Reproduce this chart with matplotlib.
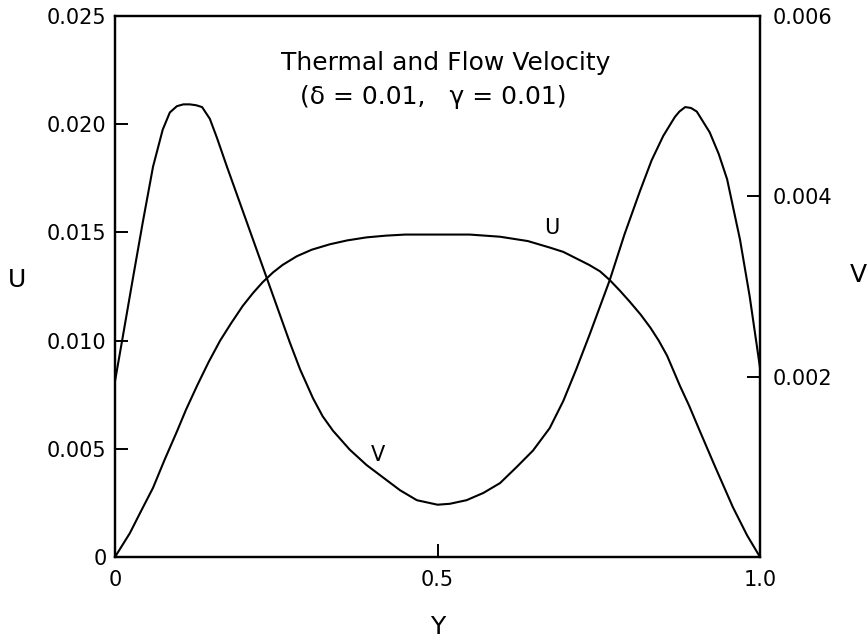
import numpy as np
import matplotlib
matplotlib.use("Agg")
import matplotlib.pyplot as plt

# U curve (left axis)
y_u = [0.0, 0.023, 0.04, 0.059, 0.077, 0.096, 0.11, 0.127, 0.145, 0.163,
       0.18, 0.198, 0.214, 0.229, 0.245, 0.26, 0.282, 0.305, 0.333, 0.36,
       0.39, 0.42, 0.45, 0.5, 0.55, 0.597, 0.64, 0.674, 0.695, 0.715,
       0.735, 0.752, 0.767, 0.783, 0.798, 0.815, 0.83, 0.843, 0.856, 0.876,
       0.89, 0.907, 0.93, 0.958, 0.98, 1.0]
u_vals = [0.0, 0.0011, 0.0021, 0.0032, 0.0045, 0.0058, 0.0068, 0.0079, 0.0090, 0.0100,
          0.0108, 0.0116, 0.0122, 0.0127, 0.01315, 0.0135, 0.0139, 0.0142, 0.01445, 0.01463,
          0.01477, 0.01485, 0.0149, 0.0149, 0.0149, 0.0148, 0.0146, 0.0143, 0.0141, 0.0138,
          0.0135, 0.0132, 0.0128, 0.0123, 0.0118, 0.0112, 0.0106, 0.0100, 0.0093, 0.0079,
          0.0070, 0.0058, 0.0042, 0.0023, 0.0010, 0.0]

# V curve (right axis)
y_v = [0.0, 0.012, 0.028, 0.043, 0.059, 0.074, 0.085, 0.096, 0.106, 0.116,
       0.126, 0.135, 0.147, 0.158, 0.173, 0.19, 0.209, 0.22, 0.233, 0.251,
       0.271, 0.287, 0.307, 0.322, 0.338, 0.364, 0.39, 0.416, 0.442, 0.468,
       0.5, 0.519, 0.545, 0.571, 0.597, 0.623, 0.648, 0.674, 0.695, 0.715,
       0.736, 0.767, 0.79, 0.814, 0.832, 0.85, 0.868, 0.875, 0.884, 0.893,
       0.902, 0.922, 0.936, 0.949, 0.969, 0.984, 1.0]
v_vals = [0.00195, 0.00244, 0.00310, 0.00371, 0.00433, 0.00474, 0.00493, 0.00500, 0.00502, 0.00502,
          0.00501, 0.00499, 0.00486, 0.00465, 0.00434, 0.00400, 0.00362, 0.00340, 0.00314, 0.00278,
          0.00238, 0.00208, 0.00176, 0.00156, 0.00140, 0.00119, 0.00102, 0.00088, 0.00074, 0.00063,
          0.00058, 0.00059, 0.00063, 0.00071, 0.00082, 0.00100, 0.00118, 0.00143, 0.00173, 0.00208,
          0.00247, 0.00307, 0.00358, 0.00406, 0.00440, 0.00467, 0.00488, 0.00494, 0.00499, 0.00498,
          0.00494, 0.00471, 0.00447, 0.00419, 0.00352, 0.00289, 0.0021]

u_ticks = [0, 0.005, 0.010, 0.015, 0.020, 0.025]
u_labels = ["0", "0.005", "0.010", "0.015", "0.020", "0.025"]
v_ticks = [0.002, 0.004, 0.006]
v_labels = ["0.002", "0.004", "0.006"]
x_ticks = [0, 0.5, 1.0]
x_labels = ["0", "0.5", "1.0"]

plt.rcParams['font.family'] = ['DejaVu Sans']

fig = plt.figure(figsize=(8.68, 6.42), dpi=100)
ax = fig.add_axes([115/868, 85/642, 645/868, 541/642])
ax2 = ax.twinx()

ax.plot(y_u, u_vals, color='black', lw=1.5)
ax2.plot(y_v, v_vals, color='black', lw=1.5)

ax.set_xlim(0, 1)
ax.set_ylim(0, 0.025)
ax2.set_ylim(0, 0.006)

ax.set_xticks(x_ticks, x_labels)
ax.set_yticks(u_ticks, u_labels)
ax2.set_yticks(v_ticks, v_labels)

ax.tick_params(axis='both', direction='in', length=9.4, width=1.4, labelsize=15)
ax.tick_params(axis='y', pad=6)
ax.tick_params(axis='x', pad=9)
ax2.tick_params(axis='y', direction='in', length=9.4, width=1.4, labelsize=15, pad=9)

for a in (ax, ax2):
    for s in a.spines.values():
        s.set_linewidth(1.6)

ax.text(0.512, 0.913, "Thermal and Flow Velocity", transform=ax.transAxes,
        ha='center', va='center', fontsize=18)
ax.text(0.494, 0.850, "(δ = 0.01,   γ = 0.01)", transform=ax.transAxes,
        ha='center', va='center', fontsize=18)

ax.text(0.678, 0.0152, "U", ha='center', va='center', fontsize=15)
ax.text(0.408, 0.0047, "V", ha='center', va='center', fontsize=15)

fig.text(17/868, 1 - 280/642, "U", ha='center', va='center', fontsize=18)
fig.text(858/868, 1 - 275/642, "V", ha='center', va='center', fontsize=18)
fig.text(438/868, 1 - 627/642, "Y", ha='center', va='center', fontsize=18)

fig.savefig("out.png", dpi=100)
